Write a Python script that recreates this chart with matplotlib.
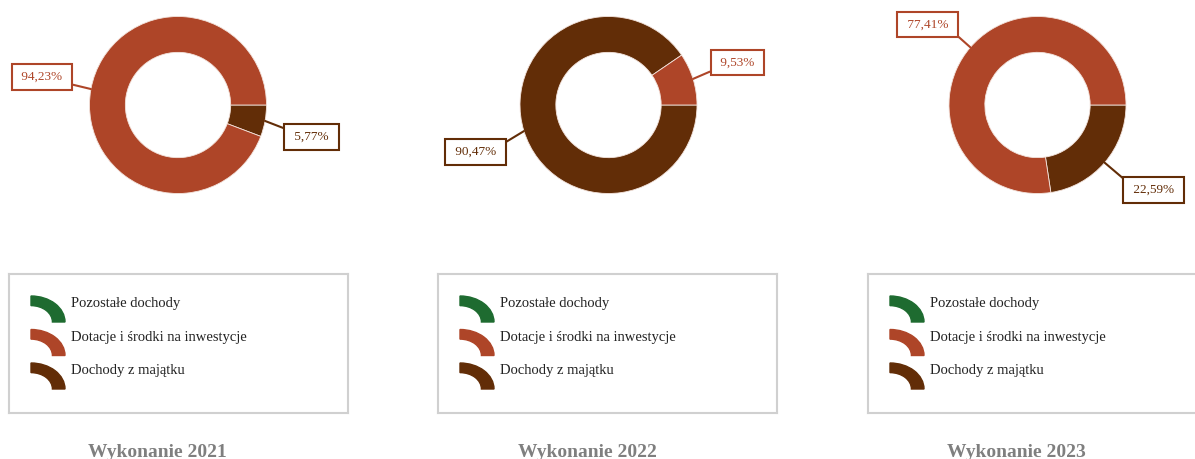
import numpy as np
import matplotlib
matplotlib.use("Agg")
import matplotlib.pyplot as plt
from matplotlib.patches import Wedge
from matplotlib.transforms import Affine2D

plt.rcParams['font.family'] = ['Liberation Serif', 'DejaVu Serif']

### Data ###

years = ['2021', '2022', '2023']
categories = ['Pozostałe dochody', 'Dotacje i środki na inwestycje', 'Dochody z majątku']
pozostale = [0.0, 0.0, 0.0]
dotacje = [94.23, 9.53, 77.41]
majatek = [5.77, 90.47, 22.59]

colors = {'Pozostałe dochody': '#1E6B30',
          'Dotacje i środki na inwestycje': '#AE4528',
          'Dochody z majątku': '#622D07'}

### Layout (pixels, image coords: y down) ###

W, H = 1195, 459
pie_cx = [178, 608.5, 1037.5]
pie_cy = 105
R = 88.5
leg_x0 = [9, 438, 868]
leg_y0, leg_w, leg_h = 274, 339, 139
title_cx = [157, 587, 1016]
# label box centers per panel, order: majatek, dotacje ; plus line attach corner
label_pos = [[(311.5, 137, (0, 1)), (42, 77, (1, 0))],
             [(475.5, 152, (1, 1)), (737.5, 62.5, (0, 0))],
             [(1153.5, 190, (0, 1)), (927.5, 24.5, (1, 0))]]

fig = plt.figure(figsize=(W / 100, H / 100), dpi=100)
fig.patch.set_facecolor('white')

for i, yr in enumerate(years):
    # donut, drawn clockwise from 3 o'clock
    order = ['Dochody z majątku', 'Dotacje i środki na inwestycje', 'Pozostałe dochody']
    vals_all = {'Dochody z majątku': majatek[i],
                'Dotacje i środki na inwestycje': dotacje[i],
                'Pozostałe dochody': pozostale[i]}
    names = [n for n in order if vals_all[n] > 0]
    vals = [vals_all[n] for n in names]

    ax = fig.add_axes([(pie_cx[i] - R) / W, (H - pie_cy - R) / H, 2 * R / W, 2 * R / H])
    wedges, _ = ax.pie(vals, colors=[colors[n] for n in names], startangle=0,
                       counterclock=False, radius=1,
                       wedgeprops=dict(width=0.405, edgecolor='#f3e3dc', linewidth=0.6))
    ax.set_xlim(-1, 1)
    ax.set_ylim(-1, 1)
    ax.set_aspect('equal')
    ax.axis('off')

    for j, (w, n, v) in enumerate(zip(wedges, names, vals)):
        mid = np.deg2rad((w.theta1 + w.theta2) / 2)
        bx, by, rel = label_pos[i][j]
        c = colors[n]
        txt = ' ' + f'{v:.2f}'.replace('.', ',') + '% '
        ax.annotate(txt, xy=(np.cos(mid), np.sin(mid)), xycoords='data',
                    xytext=(bx, H - by), textcoords='figure pixels',
                    ha='center', va='center', fontsize=9.5, color=c,
                    bbox=dict(boxstyle='square,pad=0.5', fc='white', ec=c, lw=1.5),
                    arrowprops=dict(arrowstyle='-', color=c, lw=1.5, relpos=rel,
                                    shrinkA=0, shrinkB=0))

    # legend box
    lax = fig.add_axes([leg_x0[i] / W, (H - leg_y0 - leg_h) / H, leg_w / W, leg_h / H])
    lax.set_xlim(0, leg_w)
    lax.set_ylim(leg_h, 0)
    lax.set_xticks([])
    lax.set_yticks([])
    for s in lax.spines.values():
        s.set_color('#D0D0D0')
        s.set_linewidth(1.5)
    for k, n in enumerate(categories):
        top = 22 + k * 33.5
        tr = Affine2D().scale(34, -26).translate(22, top + 26) + lax.transData
        lax.add_patch(Wedge((0, 0), 1, 0, 90, width=0.37, color=colors[n], transform=tr))
        lax.text(62, top + 11, n, fontsize=10.5, color='#222222', va='baseline', ha='left')

    fig.text(title_cx[i] / W, 2 / H, 'Wykonanie ' + yr, ha='center', va='baseline',
             fontsize=14, fontweight='bold', color='#7F7F7F')

plt.savefig('out.png', dpi=100)
